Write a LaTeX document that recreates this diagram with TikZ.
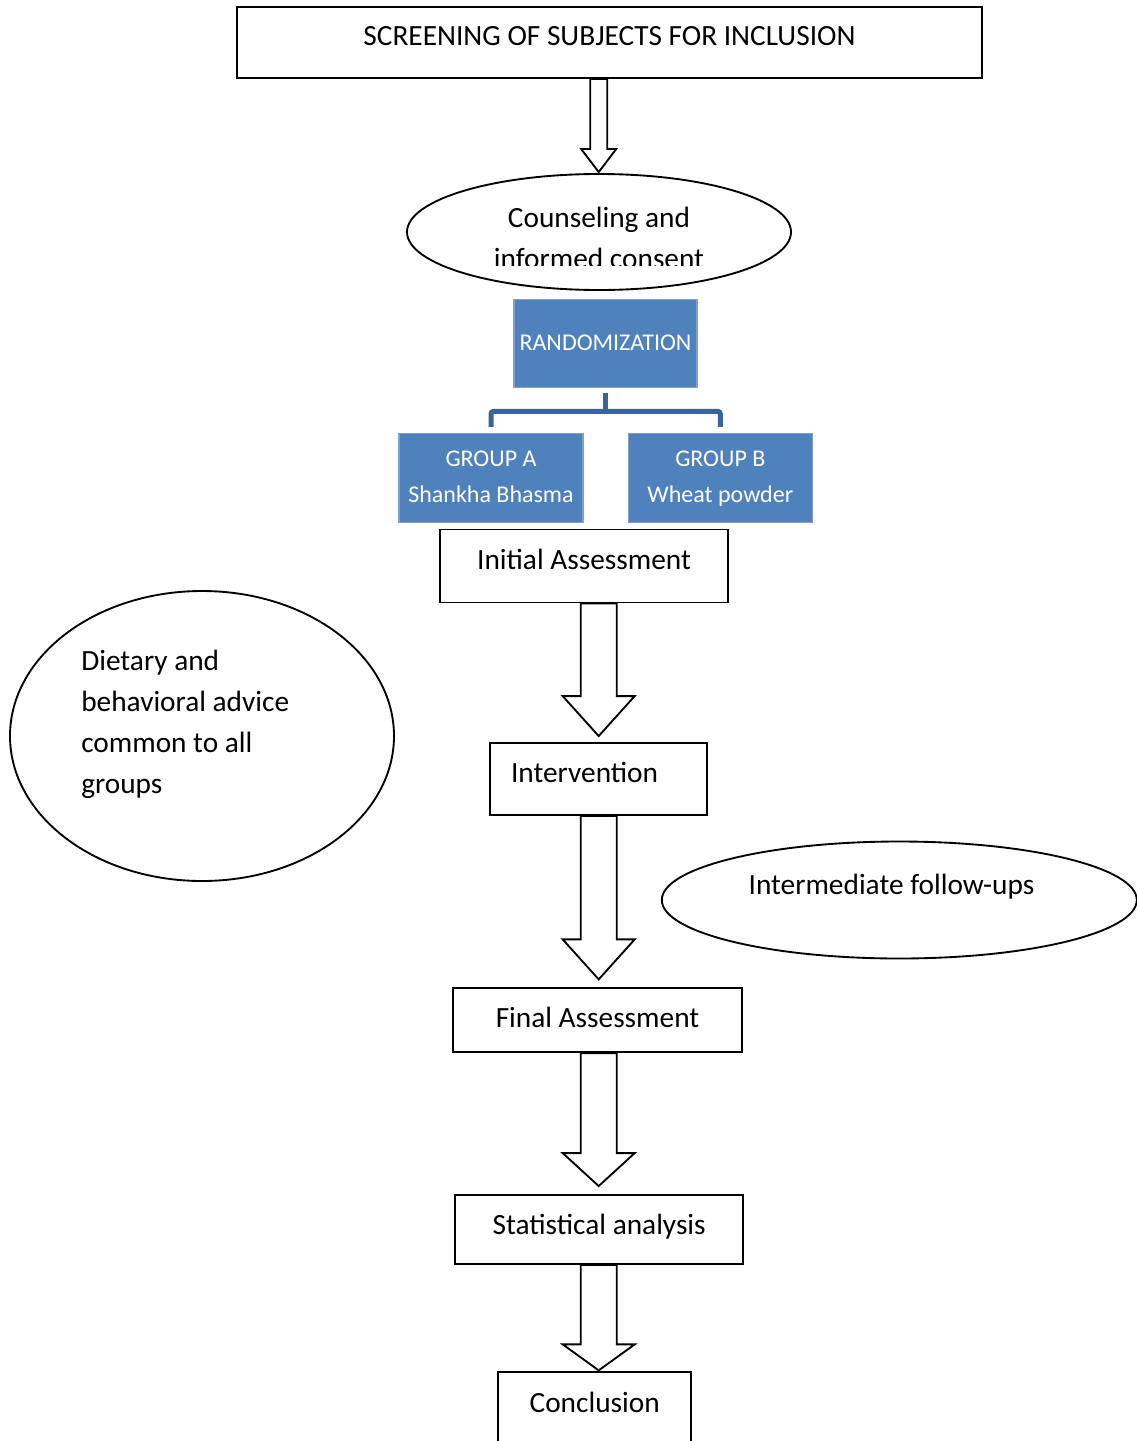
\documentclass[tikz,border=0pt]{standalone}
\usepackage{fontspec}
\setmainfont{Carlito}
\usetikzlibrary{shapes.geometric, calc, positioning}

\newdimen\pxu \pxu=0.75pt
\definecolor{blockblue}{RGB}{79,129,189}
\definecolor{blockedge}{RGB}{125,160,205}
\definecolor{bracketblue}{RGB}{59,100,158}
\newcommand{\mainsize}{\fontsize{22}{30.75}\selectfont}
\newcommand{\smallsize}{\fontsize{18}{27.5}\selectfont}

\tikzset{
  flowbox/.style={draw, line width=1.4pt, inner sep=0pt, font=\mainsize, text height=16pt, text depth=11.5pt},
  bluebox/.style={draw=blockedge, line width=0.8pt, fill=blockblue, text=white, inner sep=0pt, font=\smallsize, align=center, minimum width=184\pxu, minimum height=89\pxu},
  oval/.style={draw, ellipse, line width=1.4pt, inner sep=0pt},
  ovaltext/.style={inner sep=0pt, font=\mainsize},
  hollow/.style={draw, line width=1.4pt, line join=miter, fill=white},
  bracket/.style={draw=bracketblue, line width=3.75pt}
}

% hollow block arrow: from, to, shaft half width, head half width, head length, gap
\newcommand{\fatarrow}[6]{%
  \coordinate (fa-s) at (#1.south -| axis);
  \coordinate (fa-t) at ($(#2.north -| axis)+(0,-#6)$);
  \draw[hollow] ($(fa-s)+(-#3,0)$) -- ($(fa-t)+(-#3,-#5)$) -- ($(fa-t)+(-#4,-#5)$) -- (fa-t)
    -- ($(fa-t)+(#4,-#5)$) -- ($(fa-t)+(#3,-#5)$) -- ($(fa-s)+(#3,0)$) -- cycle;}

\begin{document}
\begin{tikzpicture}[x=0.75pt, y=-0.75pt]
\useasboundingbox (0,0) rectangle (1136,1441);
\coordinate (axis) at (598.7,0);

\node[flowbox, minimum width=745\pxu, minimum height=71\pxu] (screen) at (609.5,42.5) {SCREENING OF SUBJECTS FOR INCLUSION};

\node[oval, minimum width=384\pxu, minimum height=116\pxu] (counsel) at (599,232) {};
\begin{scope}
  \clip (0,0) rectangle (1136,265);
  \node[ovaltext, align=center, anchor=base] (counseltext) at (599,268.5) {Counseling and\\informed consent};
\end{scope}

\node[bluebox, minimum width=183\pxu, minimum height=88\pxu, text height=13pt, text depth=2.8pt] (rand) at (605.5,343.2) {RANDOMIZATION};
\node[bluebox, text height=39.4pt, text depth=2pt] (grpA) at (491,477.8) {GROUP A\\Shankha Bhasma};
\node[bluebox, text height=39.4pt, text depth=2pt] (grpB) at (720.3,477.8) {GROUP B\\Wheat powder};

% bracket from randomization to the groups
\coordinate (brk) at ($(grpA.north)+(0,-21.5)$);
\draw[bracket] ($(rand.south)+(0,5.5)$) -- (rand.south |- brk);
\draw[bracket, rounded corners=2pt] ($(grpA.north)+(0,-6)$) -- (brk) -- (grpB.north |- brk) -- ($(grpB.north)+(0,-6)$);

\node[flowbox, minimum width=288\pxu, minimum height=73\pxu] (init) at (584,566) {Initial Assessment};

\node[oval, minimum width=384\pxu, minimum height=290\pxu] (advice) at (202,736) {};
\node[ovaltext, align=left, anchor=base west] (advicetext) at (81,793) {Dietary and\\behavioral advice\\common to all\\groups};

\node[flowbox, minimum width=217\pxu, minimum height=72\pxu, inner xsep=21\pxu, text width=175\pxu, align=left] (interv) at (598.5,779) {Intervention};

\node[oval, minimum width=475\pxu, minimum height=117\pxu] (followup) at (899.3,900) {};
\node[ovaltext, anchor=base] (followtext) at (891.5,894) {Intermediate follow-ups};

\node[flowbox, minimum width=289\pxu, minimum height=64\pxu, text depth=5.6pt] (final) at (597.5,1020.3) {Final Assessment};
\node[flowbox, minimum width=288\pxu, minimum height=69\pxu, text depth=8pt] (stat) at (599.2,1229.5) {Statistical analysis};
\node[flowbox, minimum width=193\pxu, minimum height=72\pxu, text depth=9pt] (concl) at (594.7,1408.3) {Conclusion};

% block arrows
\fatarrow{screen}{counsel}{8.5}{17.5}{23}{1}
\fatarrow{init}{interv}{18}{36}{40}{6}
\fatarrow{interv}{final}{18}{36}{40}{8}
\fatarrow{final}{stat}{18}{36}{33}{8}
\fatarrow{stat}{concl}{18}{36}{26}{1}
\end{tikzpicture}
\end{document}
